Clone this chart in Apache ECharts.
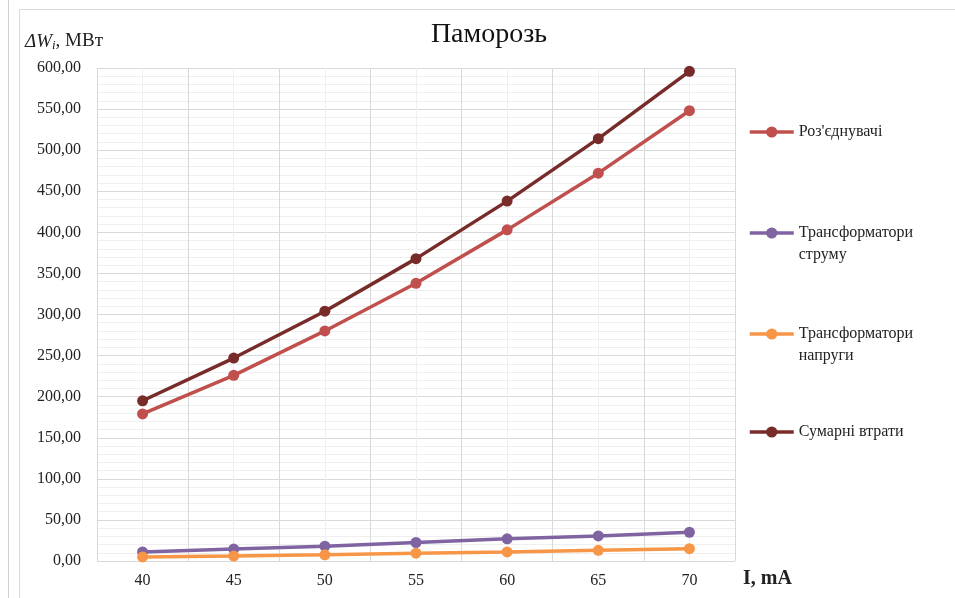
<!DOCTYPE html>
<html><head><meta charset="utf-8">
<script src="https://cdn.jsdelivr.net/npm/echarts@6/dist/echarts.min.js"></script>
<style>html,body{margin:0;padding:0;background:#fff}#c{width:955px;height:598px}</style>
</head><body><div id="c"></div>
<script>
const categories = ['40','45','50','55','60','65','70'];
const rozyednuvachi = [179, 226, 280, 338, 403, 472, 548];
const trStrumu = [11, 14.5, 18, 22.5, 27, 30.5, 35];
const trNapruhy = [5, 6, 7.5, 9.5, 11, 13, 15];
const sumarni = [195, 247, 304, 368, 438, 514, 596];
const seriesNames = ["Роз'єднувачі", 'Трансформатори струму', 'Трансформатори напруги', 'Сумарні втрати'];
const legendLabels = ["Роз'єднувачі", '\nТрансформатори\nструму', '\nТрансформатори\nнапруги', 'Сумарні втрати'];
const colors = ['#C0504D', '#8064A2', '#F79646', '#772C2A'];
const dataSets = [rozyednuvachi, trStrumu, trNapruhy, sumarni];

const font = 'Liberation Serif';
const chart = echarts.init(document.getElementById('c'));
const legendTops = [116, 195, 296, 416];
const legends = seriesNames.map((n, i) => ({
  data: [n], left: 743, top: legendTops[i], orient: 'vertical',
  itemWidth: 44, itemHeight: 14, itemGap: 0,
  formatter: () => legendLabels[i],
  lineStyle: { width: 3.5 },
  textStyle: { fontFamily: font, fontSize: 16, color: '#222', lineHeight: 22 },
  selectedMode: false
}));

chart.setOption({
  animation: false,
  color: colors,
  title: { text: 'Паморозь', left: 484, textAlign: 'center', top: 16,
    textStyle: { fontFamily: font, fontSize: 28, fontWeight: 'normal', color: '#111' } },
  legend: legends,
  grid: { left: 97, right: 220, top: 68, bottom: 37 },
  xAxis: [{
    type: 'category', data: categories, boundaryGap: true,
    axisLine: { show: false }, axisTick: { show: false },
    splitLine: { show: false },
    axisLabel: { fontFamily: font, fontSize: 16, color: '#222', margin: 12 }
  }, {
    type: 'value', min: 0, max: 7, interval: 1, position: 'bottom',
    axisLine: { show: false }, axisTick: { show: false }, axisLabel: { show: false },
    splitLine: { show: true, lineStyle: { color: '#d9d9d9', width: 1 } },
    minorTick: { show: false, splitNumber: 2 },
    minorSplitLine: { show: true, lineStyle: { color: '#efefef', width: 1 } }
  }],
  yAxis: {
    type: 'value', min: 0, max: 600, interval: 50,
    axisLine: { show: false }, axisTick: { show: false },
    axisLabel: { fontFamily: font, fontSize: 16, color: '#222', margin: 16,
      formatter: v => v.toFixed(2).replace('.', ',') },
    splitLine: { show: true, lineStyle: { color: '#d9d9d9', width: 1 } },
    minorTick: { show: false, splitNumber: 5 },
    minorSplitLine: { show: true, lineStyle: { color: '#efefef', width: 1 } }
  },
  graphic: [
    { type: 'line', shape: { x1: 8.5, y1: 0, x2: 8.5, y2: 598 }, style: { stroke: '#d0d0d0', lineWidth: 1 } },
    { type: 'rect', shape: { x: 19.5, y: 9.5, width: 940, height: 600 }, style: { fill: 'none', stroke: '#d9d9d9', lineWidth: 1 } },
    { type: 'text', left: 25, top: 32, style: {
      text: '{it|ΔW}{sub|i}{n|, МВт}',
      rich: {
        it: { fontFamily: font, fontStyle: 'italic', fontSize: 19, fill: '#222' },
        sub: { fontFamily: font, fontStyle: 'italic', fontSize: 13, fill: '#222', verticalAlign: 'bottom', padding: [9, 0, 0, 0] },
        n: { fontFamily: font, fontSize: 19, fill: '#222' }
      } } },
    { type: 'text', left: 743, top: 569, style: { text: 'I, mA', fontFamily: font, fontSize: 20, fontWeight: 'bold', fill: '#222' } }
  ],
  series: seriesNames.map((n, i) => ({
    name: n, type: 'line', data: dataSets[i], xAxisIndex: 0,
    symbol: 'circle', symbolSize: 11,
    lineStyle: { width: 3.5, color: colors[i] },
    itemStyle: { color: colors[i] },
    z: i === 3 ? 5 : 3
  }))
});
</script></body></html>
